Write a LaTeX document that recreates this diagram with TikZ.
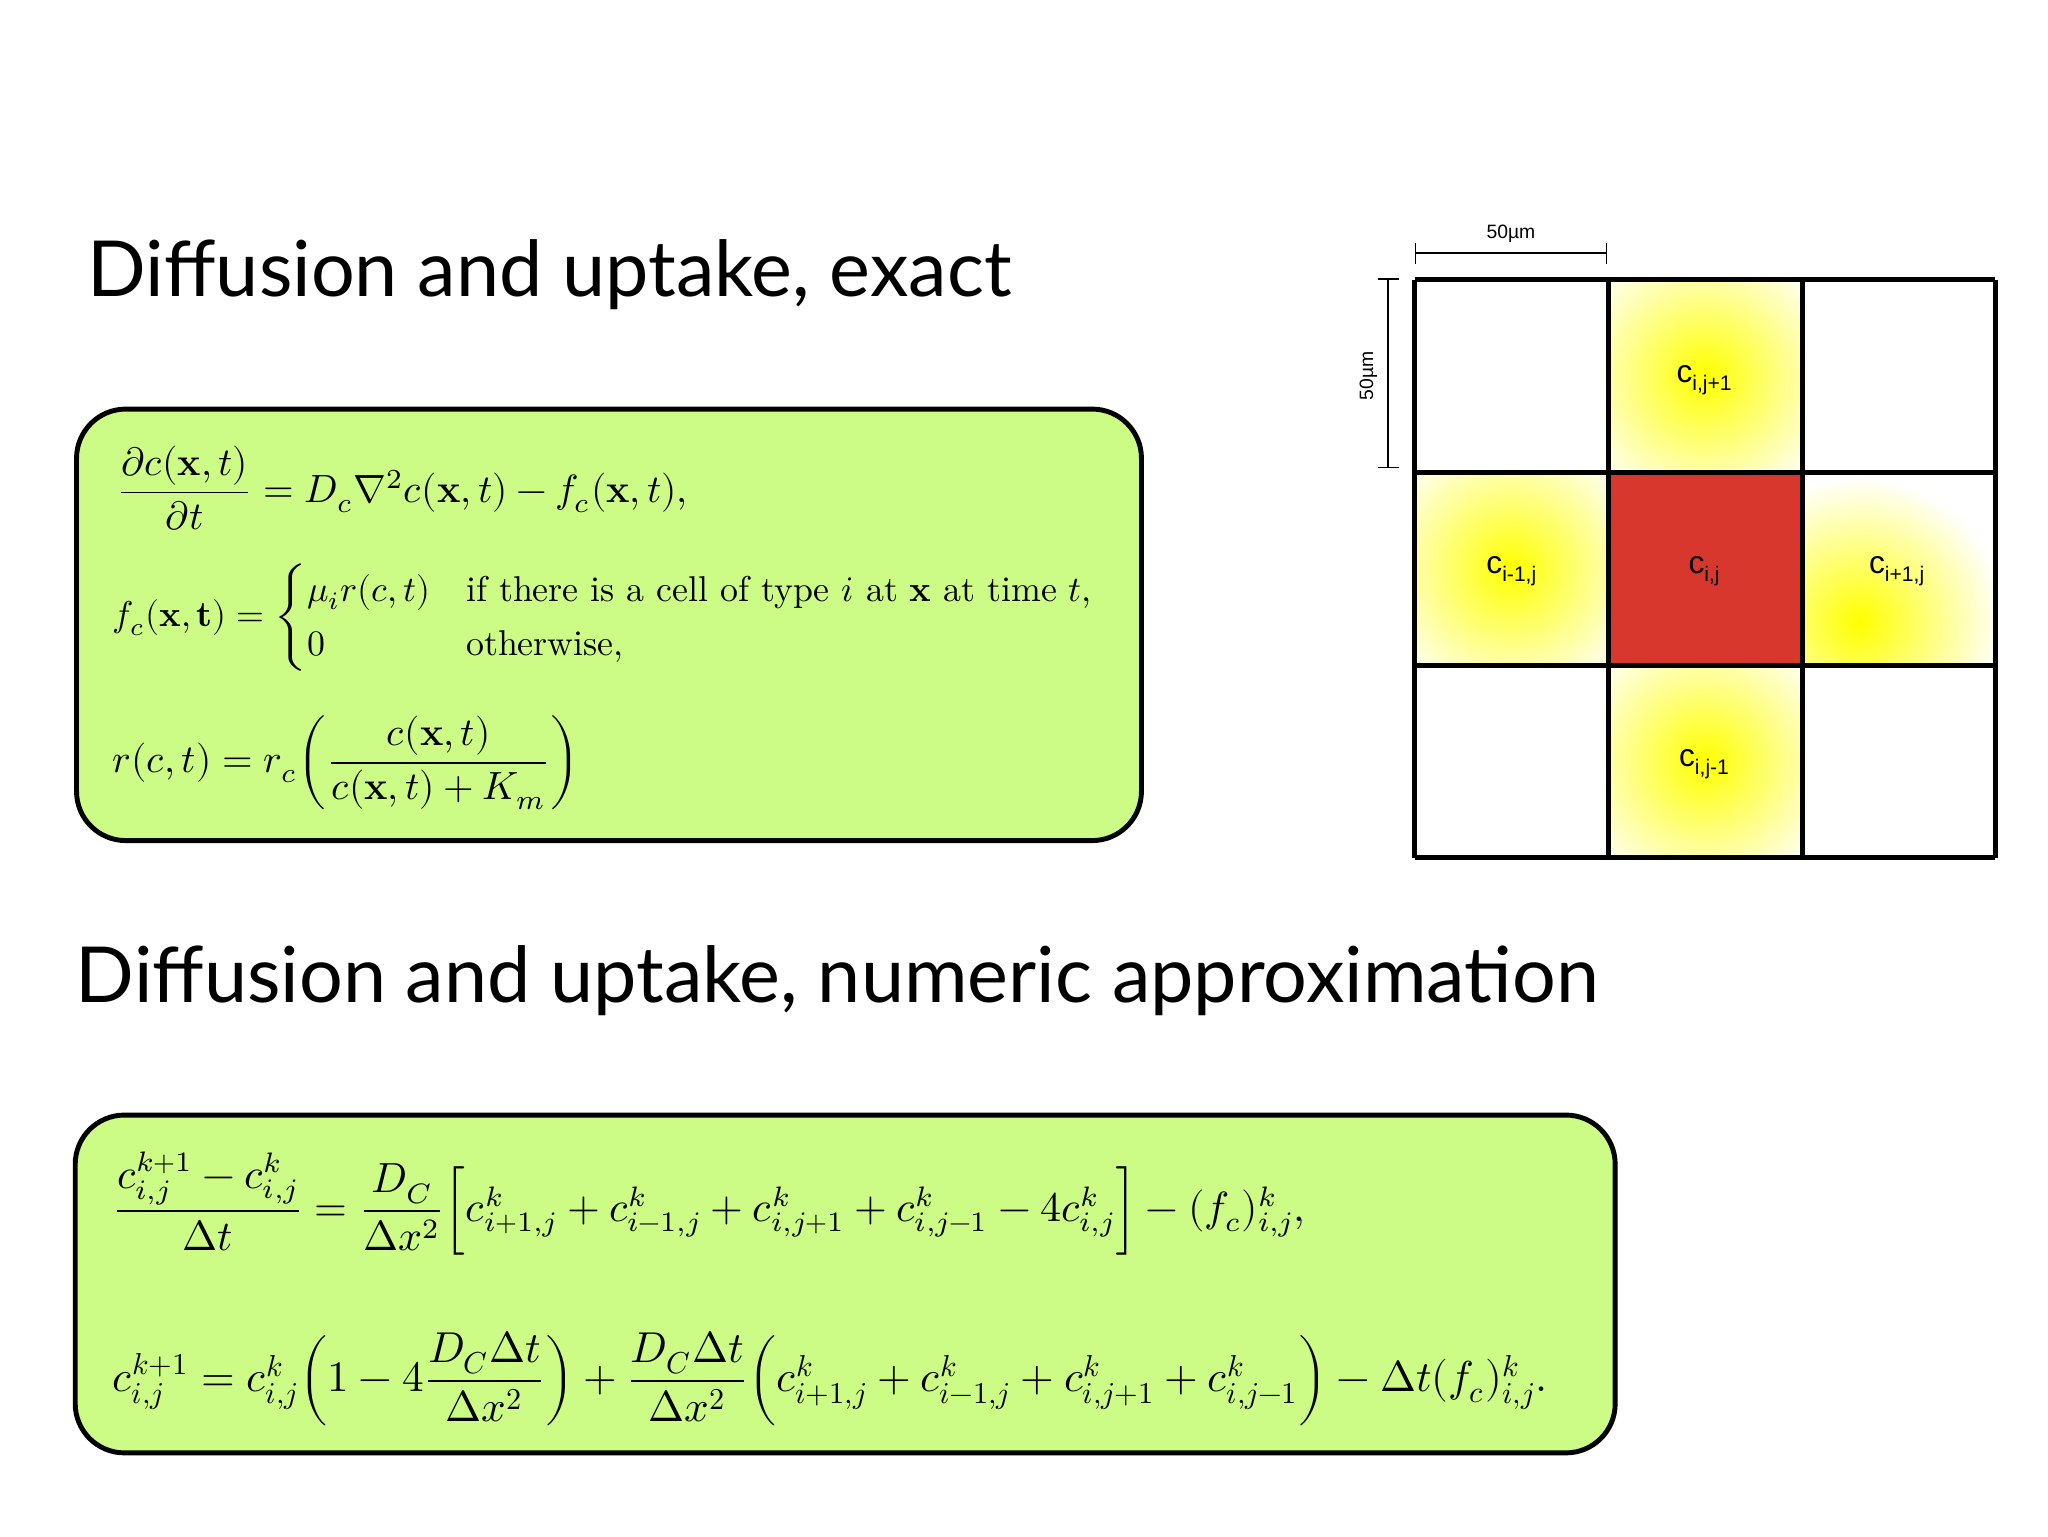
\documentclass[tikz,border=0pt]{standalone}
\usepackage{amsmath}
\usepackage{unicode-math}
\setmathfont{Latin Modern Math}
\newfontfamily\titlefont{Lato}
\newfontfamily\labfont{Liberation Sans}
\definecolor{boxgreen}{HTML}{CCFC85}
\definecolor{cellred}{HTML}{D8372E}
\tikzset{
  eqbox/.style={draw=black, line width=1.4pt, rounded corners=14pt, fill=boxgreen},
  title/.style={anchor=west, font=\titlefont\fontsize{22}{26}\selectfont, inner sep=0},
  eq/.style={anchor=west, inner sep=0, font=\fontsize{11.2}{14}\selectfont},
  eqs/.style={anchor=west, inner sep=0, font=\fontsize{10.2}{13}\selectfont},
  eqb/.style={anchor=west, inner sep=0, font=\fontsize{12}{15}\selectfont},
  eqc/.style={anchor=west, inner sep=0, font=\fontsize{12.3}{15}\selectfont},
  cell/.style={draw=black, line width=1.4pt},
  clab/.style={font=\labfont\fontsize{9}{10}\selectfont},
  slab/.style={font=\labfont\fontsize{5.5}{6}\selectfont},
  bar/.style={line width=0.5pt, |-|}
}
\begin{document}
\begin{tikzpicture}[x=0.013196cm, y=-0.013196cm]
\useasboundingbox (0,0) rectangle (1552,1164);
\fill[white] (0,0) rectangle (1552,1164);
\node[title] (t1) at (66,208) {Diffusion and uptake, exact};
\node[title] (t2) at (57,743) {Diffusion and uptake, numeric approximation};
\draw[eqbox] (58,310) rectangle (865,637);
\draw[eqbox] (57,845) rectangle (1224,1101);
\node[eq] (e1) at (88,370) {$\dfrac{\partial c(\mathbf{x},t)}{\partial t} = D_c\nabla^2 c(\mathbf{x},t) - f_c(\mathbf{x},t),$};
\node[eqs] (e2) at (85,468) {$f_c(\mathbf{x},\mathbf{t}) = \begin{cases}\mu_i r(c,t) & \text{if there is a cell of type $i$ at $\mathbf{x}$ at time $t$,}\\ 0 & \text{otherwise,}\end{cases}$};
\node[eq] (e3) at (85,578) {$r(c,t) = r_c\!\left(\dfrac{c(\mathbf{x},t)}{c(\mathbf{x},t)+K_m}\right)$};
\node[eqb] (e4) at (85,912) {$\dfrac{c^{k+1}_{i,j}-c^k_{i,j}}{\Delta t} = \dfrac{D_C}{\Delta x^2}\!\left[c^k_{i+1,j}+c^k_{i-1,j}+c^k_{i,j+1}+c^k_{i,j-1}-4c^k_{i,j}\vphantom{\dfrac{D_C}{\Delta x^2}}\right]-(f_c)^k_{i,j},$};
\node[eqc] (e5) at (85,1045) {$c^{k+1}_{i,j} = c^k_{i,j}\!\left(1-4\dfrac{D_C\Delta t}{\Delta x^2}\right)+\dfrac{D_C\Delta t}{\Delta x^2}\!\left(c^k_{i+1,j}+c^k_{i-1,j}+c^k_{i,j+1}+c^k_{i,j-1}\vphantom{\dfrac{D_C}{\Delta x^2}}\right)-\Delta t(f_c)^k_{i,j}.$};
% grid
\foreach \cx/\cy/\ox/\oy in {1219/212/0/0,1072/358/0/0,1366/358/-30/40,1219/504/0/0}{
  \begin{scope}
  \clip (\cx,\cy) rectangle ++(147,146);
  \shade[inner color=yellow, outer color=white] (\cx+73+\ox,\cy+73+\oy) circle (110);
  \end{scope}
}
\fill[cellred] (1219,358) rectangle (1366,504);
\foreach \x in {1072,1219,1366,1512}{\draw[cell] (\x,212) -- (\x,650);}
\foreach \y in {212,358,504,650}{\draw[cell] (1072,\y) -- (1512,\y);}
\node[clab] (l1) at (1292,288) {c\textsubscript{i,j+1}};
\node[clab] (l2) at (1146,433) {c\textsubscript{i-1,j}};
\node[clab] (l3) at (1292,433) {c\textsubscript{i,j}};
\node[clab] (l4) at (1438,433) {c\textsubscript{i+1,j}};
\node[clab] (l5) at (1292,579) {c\textsubscript{i,j-1}};
\coordinate (h1) at (1072,192); \coordinate (h2) at (1218,192);
\coordinate (v1) at (1052,211); \coordinate (v2) at (1052,355);
\draw[bar] (h1) -- (h2);
\draw[bar] (v1) -- (v2);
\node[slab] (s1) at (1145,177) {50µm};
\node[slab, rotate=90] (s2) at (1037,285) {50µm};
\end{tikzpicture}
\end{document}
